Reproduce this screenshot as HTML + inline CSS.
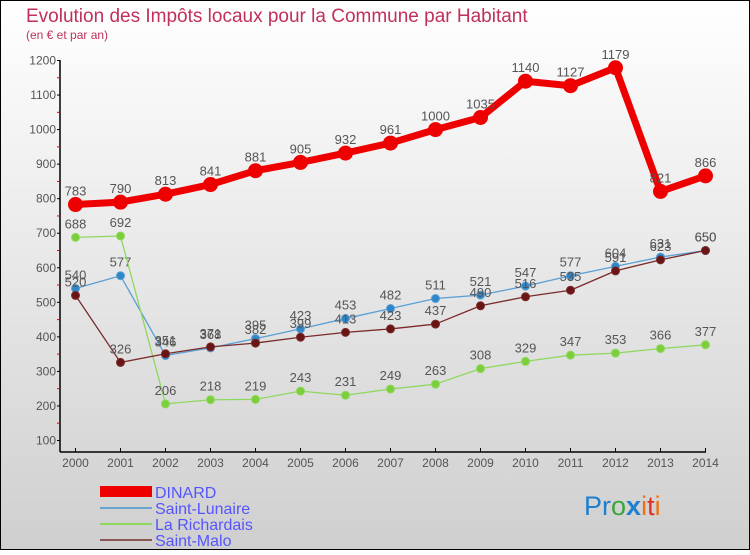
<!DOCTYPE html>
<html><head><meta charset="utf-8"><style>
body{margin:0}
svg text{font-family:"Liberation Sans",sans-serif}
</style></head><body>
<svg id="c" width="750" height="550" xmlns="http://www.w3.org/2000/svg">
<defs><linearGradient id="bg" x1="0" y1="0" x2="0" y2="1"><stop offset="0" stop-color="#ffffff"/><stop offset="1" stop-color="#cfcfcf"/></linearGradient></defs>
<rect x="0.5" y="0.5" width="749" height="549" fill="url(#bg)" stroke="#000"/>
<text x="26" y="22" font-size="19" fill="#c0305a">Evolution des Impôts locaux pour la Commune par Habitant</text>
<text x="26" y="39" font-size="12" fill="#c0305a">(en € et par an)</text>
<g id="axes"></g><g id="series"></g>
<g font-size="16" fill="#5555ff">
<rect x="100" y="486" width="52" height="11" fill="#e00"/><text x="155" y="498">DINARD</text>
<line x1="100" y1="508" x2="152" y2="508" stroke="#6aa5d0" stroke-width="2"/><text x="155" y="514">Saint-Lunaire</text>
<line x1="100" y1="524" x2="152" y2="524" stroke="#8fd860" stroke-width="2"/><text x="155" y="530">La Richardais</text>
<line x1="100" y1="540" x2="152" y2="540" stroke="#8a5555" stroke-width="2"/><text x="155" y="546">Saint-Malo</text>
</g>
<g font-size="27">
<text x="584" y="515"><tspan fill="#1e7fd0">Pr</tspan><tspan fill="#3aa53a">o</tspan><tspan fill="#1e7fd0" font-weight="bold">x</tspan><tspan fill="#f07010">i</tspan><tspan fill="#e03020">t</tspan><tspan fill="#f07010">i</tspan></text>
</g>
</svg>
<script>
const years=[2000,2001,2002,2003,2004,2005,2006,2007,2008,2009,2010,2011,2012,2013,2014];
const yTicks=[100,200,300,400,500,600,700,800,900,1000,1100,1200];
const dinard=[783,790,813,841,881,905,932,961,1000,1035,1140,1127,1179,821,866];
const lunaire=[540,577,346,368,395,423,453,482,511,521,547,577,604,631,650];
const richardais=[688,692,206,218,219,243,231,249,263,308,329,347,353,366,377];
const malo=[520,326,351,371,382,399,413,423,437,490,516,535,591,623,650];
const NS="http://www.w3.org/2000/svg";
const x=i=>75.5+i*(705.5-75.5)/(years.length-1);
const y=v=>440.5-(v-100)*(380/1100);
function mk(t,a,p){const e=document.createElementNS(NS,t);for(const k in a)e.setAttribute(k,a[k]);p.appendChild(e);return e;}
const ax=document.getElementById('axes');
mk('line',{x1:60,y1:60,x2:60,y2:452,stroke:'#000','stroke-width':1.5},ax);
mk('line',{x1:60,y1:452,x2:706,y2:452,stroke:'#000','stroke-width':1.5},ax);
yTicks.forEach(v=>{mk('line',{x1:57,y1:y(v),x2:60,y2:y(v),stroke:'#000'},ax);
if(v<1200)mk('line',{x1:57,y1:y(v+50),x2:60,y2:y(v+50),stroke:'#e00'},ax);
const t=mk('text',{x:56,y:y(v)+4,'text-anchor':'end','font-size':12,fill:'#555'},ax);t.textContent=v;
});
years.forEach((yr,i)=>{mk('line',{x1:x(i),y1:448,x2:x(i),y2:452,stroke:'#000'},ax);
const t=mk('text',{x:x(i),y:467,'text-anchor':'middle','font-size':12,fill:'#555'},ax);t.textContent=yr;
});
const sg=document.getElementById('series');
function draw(data,name,color,w,r,dot){const g=mk('g',{},sg);


mk('polyline',{points:data.map((v,i)=>x(i)+','+y(v)).join(' '),fill:'none',stroke:color,'stroke-width':w,'stroke-linejoin':'round'},g);
data.forEach((v,i)=>{const c=mk('circle',{cx:x(i),cy:y(v),r:r,fill:dot,stroke:color,'stroke-width':1},g);


const t=mk('text',{x:x(i),y:y(v)-9,'text-anchor':'middle','font-size':13,fill:'#555'},g);t.textContent=v;

});}
draw(lunaire,'saint-lunaire','#5aa0d5',1.3,4,'#2f86c8');
draw(richardais,'la-richardais','#8fd860',1.3,4,'#7ccf3a');
draw(malo,'saint-malo','#7a2a2a',1.3,4,'#6a1515');
draw(dinard,'dinard','#ee0000',7,7,'#ee0000');
</script>
</body></html>
